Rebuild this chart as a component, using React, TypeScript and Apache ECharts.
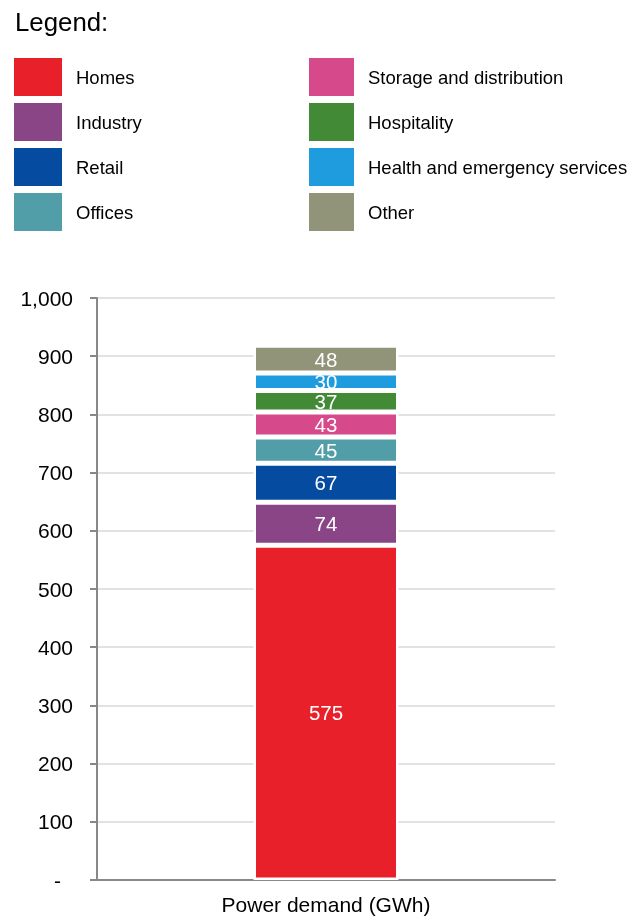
import React, { useEffect, useRef } from "react";
import * as echarts from "echarts";

const categories = ["Power demand (GWh)"];
const seriesNames = [
  "Homes",
  "Industry",
  "Retail",
  "Offices",
  "Storage and distribution",
  "Hospitality",
  "Health and emergency services",
  "Other",
];
const seriesValues = [575, 74, 67, 45, 43, 37, 30, 48];
const seriesColors = [
  "#E8202A",
  "#8A4587",
  "#054CA0",
  "#519EA9",
  "#D64A8C",
  "#428A35",
  "#1E9CDE",
  "#929479",
];
const legendLeftColumn = ["Homes", "Industry", "Retail", "Offices"];
const legendRightColumn = [
  "Storage and distribution",
  "Hospitality",
  "Health and emergency services",
  "Other",
];
const yTicks = { min: 0, max: 1000, interval: 100 };

const FONT = "'Liberation Sans', Arial, sans-serif";

export default function App() {
  const ref = useRef<HTMLDivElement>(null);
  useEffect(() => {
    if (!ref.current) return;
    const chart = echarts.init(ref.current, undefined, { renderer: "svg" });
    const legendCommon = {
      orient: "vertical" as const,
      top: 58,
      padding: 0,
      itemHeight: 38,
      itemGap: 7,
      icon: "rect",
      selectedMode: false,
      itemStyle: { borderWidth: 0 },
      textStyle: {
        fontFamily: FONT,
        fontSize: 18.5,
        color: "#000",
        padding: [0, 0, 0, 9],
      },
    };
    chart.setOption({
      animation: false,
      textStyle: { fontFamily: FONT },
      title: {
        text: "Legend:",
        left: 15,
        top: 9,
        padding: 0,
        textStyle: {
          fontFamily: FONT,
          fontSize: 25.8,
          fontWeight: "normal",
          color: "#000",
        },
      },
      legend: [
        { ...legendCommon, left: 14, itemWidth: 48, data: legendLeftColumn },
        { ...legendCommon, left: 309, itemWidth: 45, data: legendRightColumn },
      ],
      grid: { left: 97, right: 75, top: 298, bottom: 38, containLabel: false },
      xAxis: {
        type: "category",
        data: categories,
        axisLine: { show: true, lineStyle: { color: "#888888", width: 2 } },
        axisTick: { show: false },
        axisLabel: {
          fontFamily: FONT,
          fontSize: 21,
          color: "#000",
          margin: 14,
        },
      },
      yAxis: {
        type: "value",
        min: yTicks.min,
        max: yTicks.max,
        interval: yTicks.interval,
        axisLine: { show: true, lineStyle: { color: "#888888", width: 2 } },
        axisTick: {
          show: true,
          inside: false,
          length: 7,
          lineStyle: { color: "#888888", width: 2 },
        },
        splitLine: { show: true, lineStyle: { color: "#d9d9d9", width: 1.5 } },
        axisLabel: {
          fontFamily: FONT,
          fontSize: 21,
          color: "#000",
          margin: 24,
          formatter: (v: number) =>
            v === 0 ? "{d|-}" : v.toLocaleString("en-US"),
          rich: {
            d: {
              fontFamily: FONT,
              fontSize: 21,
              color: "#000",
              padding: [0, 12, 0, 0],
            },
          },
        },
      },
      series: seriesNames.map((name, i) => ({
        name,
        type: "bar",
        stack: "total",
        barWidth: 145,
        data: [seriesValues[i]],
        itemStyle: {
          color: seriesColors[i],
          borderColor: "#fff",
          borderWidth: 2.5,
        },
        label: {
          show: true,
          position: "inside",
          color: "#fff",
          fontFamily: FONT,
          fontSize: 20.5,
        },
      })),
    });
    return () => chart.dispose();
  }, []);
  return (
    <div
      ref={ref}
      style={{ position: "fixed", left: 0, top: 0, width: 630, height: 918 }}
    />
  );
}
